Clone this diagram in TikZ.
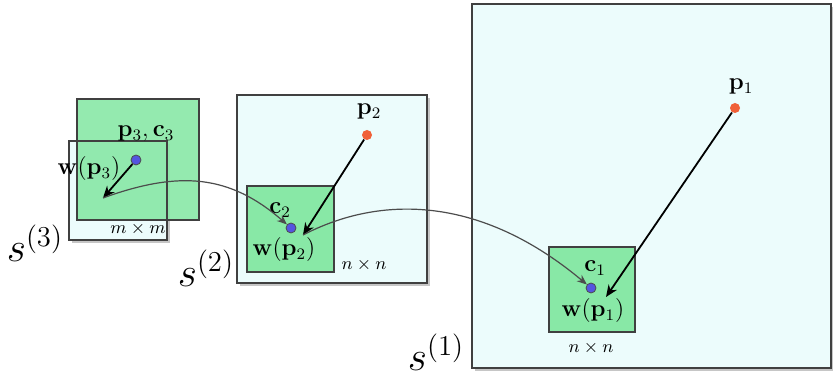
\documentclass[tikz,border=0pt]{standalone}
\usepackage{amsmath}
\usetikzlibrary{shadows,arrows.meta}
\definecolor{paleCyan}{RGB}{236,252,252}
\definecolor{patchGreen}{RGB}{136,232,166}
\definecolor{dotRed}{RGB}{240,96,56}
\definecolor{dotBlue}{RGB}{84,84,224}
\begin{document}
\begin{tikzpicture}[
x=0.5pt, y=-0.5pt,
scalebox/.style={draw=black!75, fill=paleCyan, line width=0.8pt,
  drop shadow={shadow xshift=1.5pt, shadow yshift=-1.5pt, opacity=0.45}},
patch/.style={draw=black!75, fill=patchGreen, line width=0.8pt},
bluedot/.style={circle, draw=black!70, fill=dotBlue, inner sep=0pt, minimum size=5pt},
reddot/.style={circle, fill=dotRed, inner sep=0pt, minimum size=5pt},
lbl/.style={inner sep=1pt, font=\large},
size/.style={inner sep=1pt, font=\small},
scale label/.style={inner sep=1pt, font=\huge},
mapping/.style={-{Stealth[length=6pt,width=5pt]}, line width=0.9pt},
link/.style={-{Stealth[length=5pt,width=4pt]}, black!70, line width=0.6pt}
]
\useasboundingbox (0,0) rectangle (833,383);
% level 1
\draw[scalebox] (472,4) rectangle (831,368);
\draw[patch] (549,247) rectangle (635,332);
\node[reddot] (p1) at (735,108) {};
\node[lbl] at (741,87) {$\mathbf{p}_1$};
\node[bluedot] (c1) at (591,288) {};
\node[lbl] at (595,268) {$\mathbf{c}_1$};
\node[lbl] at (593,311) {$\mathbf{w}(\mathbf{p}_1)$};
\node[size] at (591,348) {$n\times n$};
\node[scale label] at (436,352) {$s^{(1)}$};
\coordinate (w1) at (606,297);
% level 2
\draw[scalebox] (237,95) rectangle (427,283);
\draw[patch] (247,186) rectangle (334,272);
\node[reddot] (p2) at (367,135) {};
\node[lbl] at (369,112) {$\mathbf{p}_2$};
\node[bluedot] (c2) at (291,228) {};
\node[lbl] at (280,210) {$\mathbf{c}_2$};
\node[lbl] at (284,250) {$\mathbf{w}(\mathbf{p}_2)$};
\node[size] at (364,265) {$n\times n$};
\node[scale label] at (206,268) {$s^{(2)}$};
\coordinate (w2) at (303,235);
% level 3
\draw[scalebox] (69,141) rectangle (167,240);
\draw[patch, fill opacity=0.9] (77,99) rectangle (199,220);
\draw[black!75, line width=0.8pt] (69,141) rectangle (167,240);
\node[bluedot] (p3) at (136,160) {};
\node[lbl] at (146,134) {$\mathbf{p}_3,\mathbf{c}_3$};
\node[lbl] at (89,169) {$\mathbf{w}(\mathbf{p}_3)$};
\node[size] at (138,229) {$m\times m$};
\node[scale label] at (35,243) {$s^{(3)}$};
\coordinate (w3) at (103,198);

\draw[mapping] (p1) -- (w1);
\draw[mapping] (p2) -- (w2);
\draw[mapping] (p3) -- (w3);
\draw[link] (w3) .. controls (180,170) and (230,175) .. (c2);
\draw[link] (w2) .. controls (380,195) and (480,195) .. (c1);
\end{tikzpicture}
\end{document}
